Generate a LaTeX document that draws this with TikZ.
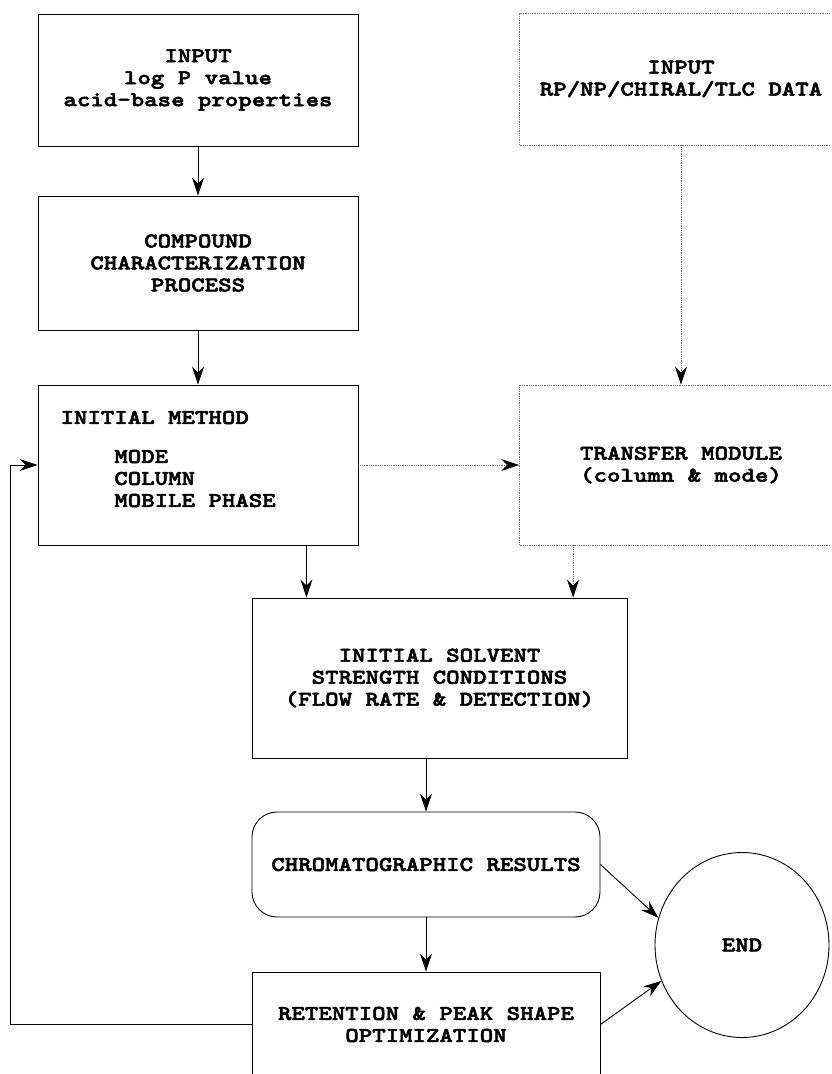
\documentclass[tikz,border=0pt]{standalone}
\usepackage{fontspec}
\newfontface\boxfont{lmmonolt10-bold.otf}[FakeStretch=1.22,FakeBold=2.5]
\usetikzlibrary{arrows.meta,shapes.geometric}

\begin{document}
\begin{tikzpicture}[x=1pt,y=-1pt,
  txt/.style={font=\boxfont\fontsize{21}{22}\selectfont},
  box/.style={txt, draw, line width=0.9pt, align=center},
  dotbox/.style={txt, draw=black!55, densely dotted, line width=0.8pt, align=center},
  arr/.style={line width=0.9pt, -{Stealth[length=18pt,width=12pt,inset=6pt]}},
  dotarr/.style={draw=black!55, densely dotted, line width=0.8pt, -{Stealth[length=18pt,width=12pt,inset=6pt,color=black]}}]

\useasboundingbox (0,0) rectangle (831,1074);
\clip (0,0) rectangle (831,1074);

\node[box, minimum width=320pt, minimum height=132pt] (inA) at (198,80) {INPUT\\log P value\\acid-base properties};
\node[box, minimum width=320pt, minimum height=134pt] (charact) at (198,263) {COMPOUND\\CHARACTERIZATION\\PROCESS};
\node[box, minimum width=320pt, minimum height=160pt] (method) at (198,465) {};
\node[txt, anchor=west, align=left] (methodtxt) at (57,459) {INITIAL METHOD\\[17pt]\phantom{XXXX}MODE\\\phantom{XXXX}COLUMN\\\phantom{XXXX}MOBILE PHASE};

\node[dotbox, minimum width=323pt, minimum height=132pt] (inB) at (681,79) {INPUT\\RP/NP/CHIRAL/TLC DATA};
\node[dotbox, minimum width=323pt, minimum height=160pt] (transfer) at (681,465) {TRANSFER MODULE\\(column \& mode)};

\node[box, minimum width=375pt, minimum height=160pt] (solvent) at (439.5,678) {INITIAL SOLVENT\\STRENGTH CONDITIONS\\(FLOW RATE \& DETECTION)};
\node[box, rounded corners=25pt, minimum width=348pt, minimum height=105pt] (results) at (426,864.5) {CHROMATOGRAPHIC RESULTS};
\node[box, minimum width=348pt, minimum height=105pt] (optim) at (426,1024.5) {RETENTION \& PEAK SHAPE\\OPTIMIZATION};
\node[box, ellipse, minimum width=174pt, minimum height=185pt, inner sep=0pt] (finish) at (742,945) {END};

\coordinate (m1) at ([xshift=-52pt]method.south east);
\coordinate (t1) at ([xshift=54pt]transfer.south west);
\coordinate (fb) at (10,1024.5);

\draw[arr] (inA) -- (charact);
\draw[arr] (charact) -- (method);
\draw[dotarr] (inB) -- (transfer);
\draw[dotarr] (method) -- (transfer);
\draw[arr] (m1) -- (m1 |- solvent.north);
\draw[dotarr] (t1) -- (t1 |- solvent.north);
\draw[arr] (results.north |- solvent.south) -- (results);
\draw[arr] (results) -- (optim);
\draw[arr] (results.east) -- (finish.162);
\draw[arr] (optim.east) -- (finish.204);
\draw[arr] (optim.west) -- (fb) |- (method.west);
\end{tikzpicture}
\end{document}
